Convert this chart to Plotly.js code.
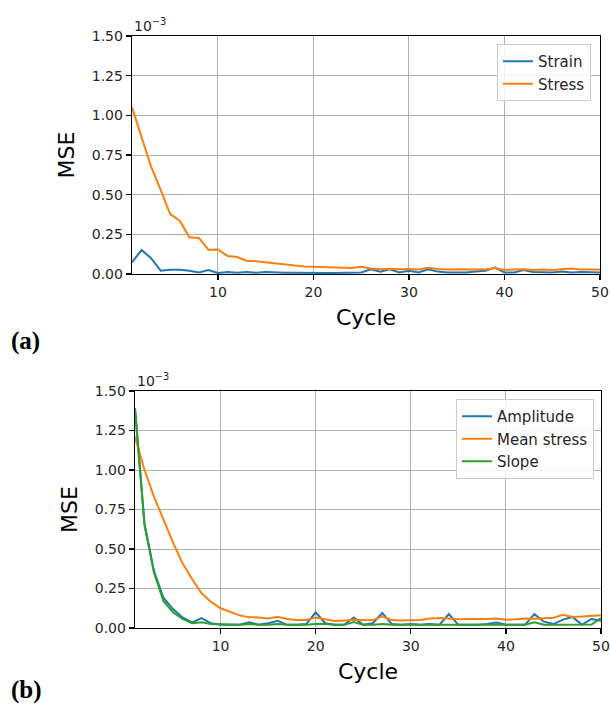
<!DOCTYPE html>
<html>
<head>
<meta charset="utf-8">
<script src="https://cdn.plot.ly/plotly-3.0.1.min.js"></script>
<style>html,body{margin:0;padding:0;background:#fff;}#chart{width:610px;height:707px;}</style>
</head>
<body>
<div id="chart"></div>
<script>
// Values in units of 1e-3 (the axis carries a 10^-3 multiplier)
const cycles = Array.from({length: 50}, (_, i) => i + 1);

// (a) Strain / Stress
const strainMSE = [0.074,0.151,0.100,0.021,0.027,0.027,0.020,0.010,0.025,0.006,
  0.012,0.008,0.012,0.008,0.012,0.008,0.008,0.008,0.006,0.006,
  0.006,0.006,0.006,0.006,0.010,0.030,0.015,0.030,0.010,0.020,
  0.010,0.030,0.015,0.010,0.010,0.010,0.015,0.020,0.040,0.010,
  0.010,0.025,0.012,0.010,0.010,0.015,0.010,0.012,0.010,0.010];
const stressMSE = [1.050,0.855,0.676,0.530,0.378,0.336,0.231,0.227,0.153,0.155,
  0.113,0.107,0.084,0.080,0.074,0.065,0.059,0.053,0.048,0.046,
  0.044,0.042,0.040,0.038,0.045,0.035,0.030,0.033,0.030,0.032,
  0.028,0.040,0.032,0.028,0.030,0.028,0.030,0.028,0.038,0.025,
  0.028,0.030,0.025,0.028,0.025,0.028,0.035,0.028,0.030,0.028];

// (b) Amplitude / Mean stress / Slope
const amplitudeMSE = [1.390,0.660,0.360,0.190,0.120,0.067,0.036,0.063,0.030,0.020,
  0.020,0.020,0.036,0.020,0.030,0.046,0.020,0.020,0.025,0.099,
  0.030,0.020,0.020,0.067,0.020,0.030,0.095,0.025,0.020,0.025,
  0.020,0.025,0.020,0.088,0.020,0.020,0.020,0.025,0.035,0.020,
  0.020,0.020,0.088,0.040,0.025,0.053,0.070,0.021,0.057,0.045];
const meanStressMSE = [1.210,1.000,0.830,0.680,0.540,0.410,0.310,0.220,0.165,0.125,
  0.100,0.080,0.068,0.067,0.060,0.071,0.057,0.050,0.050,0.067,
  0.055,0.045,0.048,0.052,0.050,0.050,0.074,0.050,0.048,0.048,
  0.050,0.060,0.063,0.060,0.055,0.057,0.055,0.057,0.060,0.052,
  0.055,0.060,0.058,0.060,0.065,0.084,0.070,0.072,0.075,0.080];
const slopeMSE = [1.390,0.650,0.350,0.170,0.100,0.057,0.030,0.036,0.025,0.022,
  0.022,0.020,0.025,0.020,0.020,0.025,0.020,0.020,0.020,0.025,
  0.025,0.020,0.020,0.038,0.020,0.020,0.025,0.020,0.020,0.020,
  0.020,0.020,0.020,0.022,0.020,0.020,0.020,0.020,0.022,0.020,
  0.020,0.020,0.036,0.020,0.020,0.020,0.022,0.020,0.022,0.063];

const xTicks = [10, 20, 30, 40, 50];
const yTicks = [0, 0.25, 0.5, 0.75, 1.0, 1.25, 1.5];

const C = {blue: '#1f77b4', orange: '#ff7f0e', green: '#2ca02c'};
const font = 'DejaVu Sans, Arial, sans-serif';

function line(x, y, name, color, xa, ya, legend) {
  return {x: x, y: y, name: name, type: 'scatter', mode: 'lines',
    line: {color: color, width: 2}, xaxis: xa, yaxis: ya, legend: legend};
}

const data = [
  line(cycles, strainMSE, 'Strain', C.blue, 'x', 'y', 'legend'),
  line(cycles, stressMSE, 'Stress', C.orange, 'x', 'y', 'legend'),
  line(cycles, amplitudeMSE, 'Amplitude', C.blue, 'x2', 'y2', 'legend2'),
  line(cycles, meanStressMSE, 'Mean stress', C.orange, 'x2', 'y2', 'legend2'),
  line(cycles, slopeMSE, 'Slope', C.green, 'x2', 'y2', 'legend2')
];

function xax(domain, anchor) {
  return {domain: domain, anchor: anchor, range: [1, 50], tickvals: xTicks,
    ticks: 'outside', ticklen: 5, tickwidth: 1.2, tickcolor: '#000',
    showline: true, mirror: true, linecolor: '#000', linewidth: 1.3,
    showgrid: true, gridcolor: '#b0b0b0', gridwidth: 1, zeroline: false,
    tickfont: {family: font, size: 14, color: '#262626'},
    title: {text: 'Cycle', font: {family: font, size: 22, color: '#000'}, standoff: 10}};
}
function yax(domain, anchor) {
  return {domain: domain, anchor: anchor, range: [0, 1.5], tickvals: yTicks,
    tickformat: '.2f',
    ticks: 'outside', ticklen: 5, tickwidth: 1.2, tickcolor: '#000',
    showline: true, mirror: true, linecolor: '#000', linewidth: 1.3,
    showgrid: true, gridcolor: '#b0b0b0', gridwidth: 1, zeroline: false,
    tickfont: {family: font, size: 14, color: '#262626'},
    title: {text: 'MSE', font: {family: font, size: 22, color: '#000'}, standoff: 11}};
}

const legendStyle = {
  bgcolor: 'rgba(255,255,255,0.85)', bordercolor: '#cccccc', borderwidth: 1,
  font: {family: font, size: 15, color: '#262626'},
  xanchor: 'right', yanchor: 'top'
};

const layout = {
  width: 610, height: 707,
  margin: {l: 0, r: 0, t: 0, b: 0},
  paper_bgcolor: '#fff', plot_bgcolor: '#fff',
  showlegend: true,
  xaxis: xax([132/610, 600/610], 'y'),
  yaxis: yax([(707-274)/707, (707-36)/707], 'x'),
  xaxis2: xax([135/610, 601/610], 'y2'),
  yaxis2: yax([(707-628)/707, (707-391)/707], 'x2'),
  legend: Object.assign({}, legendStyle, {x: 591/610, y: (707-44)/707}),
  legend2: Object.assign({}, legendStyle, {x: 594/610, y: (707-399)/707}),
  annotations: [
    {text: '10<sup>−3</sup>', xref: 'x domain', yref: 'y domain', x: 0, y: 1,
     xanchor: 'left', yanchor: 'bottom', showarrow: false, yshift: 0,
     font: {family: font, size: 14, color: '#262626'}},
    {text: '10<sup>−3</sup>', xref: 'x2 domain', yref: 'y2 domain', x: 0, y: 1,
     xanchor: 'left', yanchor: 'bottom', showarrow: false, yshift: 0,
     font: {family: font, size: 14, color: '#262626'}},
    {text: '<b>(a)</b>', xref: 'paper', yref: 'paper', x: 9/610, y: (707-341)/707,
     xanchor: 'left', yanchor: 'middle', showarrow: false,
     font: {family: 'Liberation Serif, serif', size: 25, color: '#000'}},
    {text: '<b>(b)</b>', xref: 'paper', yref: 'paper', x: 9/610, y: (707-690)/707,
     xanchor: 'left', yanchor: 'middle', showarrow: false,
     font: {family: 'Liberation Serif, serif', size: 25, color: '#000'}}
  ]
};

Plotly.newPlot('chart', data, layout, {staticPlot: true, displayModeBar: false});
</script>
</body>
</html>
